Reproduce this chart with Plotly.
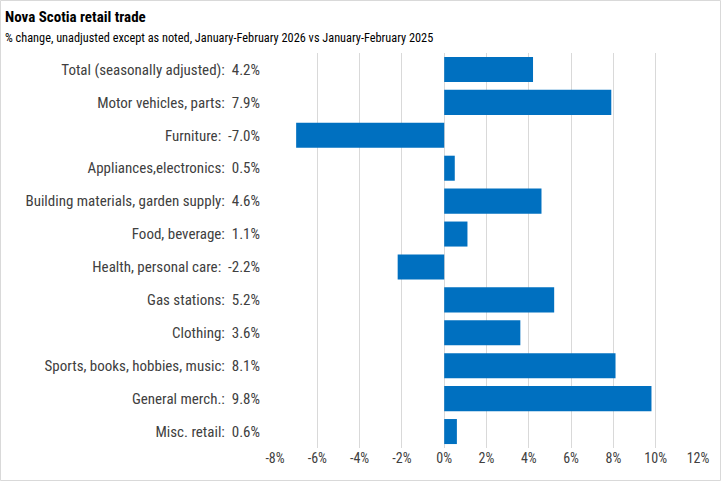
import plotly.graph_objects as go

categories = [
    "Total (seasonally adjusted)",
    "Motor vehicles, parts",
    "Furniture",
    "Appliances,electronics",
    "Building materials, garden supply",
    "Food, beverage",
    "Health, personal care",
    "Gas stations",
    "Clothing",
    "Sports, books, hobbies, music",
    "General merch.",
    "Misc. retail",
]
values = [4.2, 7.9, -7.0, 0.5, 4.6, 1.1, -2.2, 5.2, 3.6, 8.1, 9.8, 0.6]
tick_vals = [-8, -6, -4, -2, 0, 2, 4, 6, 8, 10, 12]
tick_text = [f"{v}%" for v in tick_vals]
title = "Nova Scotia retail trade"
subtitle = "% change, unadjusted except as noted, January-February 2026 vs January-February 2025"

labels = [f"{c}:  {v:.1f}%" for c, v in zip(categories, values)]

W, H = 721, 481
L, R, T, B = 275, 23, 53, 33
pw, ph = W - L - R, H - T - B

def px(x):
    return (x - L) / pw

def py(y):
    return (H - B - y) / ph

FONT = "Roboto Condensed, Roboto, Liberation Sans, sans-serif"

fig = go.Figure(go.Bar(
    x=values, y=labels, orientation="h",
    marker=dict(color="#0070C0", line=dict(width=0)),
))

fig.update_layout(
    template="none",
    width=W, height=H,
    margin=dict(l=L, r=R, t=T, b=B, pad=0),
    paper_bgcolor="white", plot_bgcolor="white",
    bargap=0.24,
    showlegend=False,
    font=dict(family=FONT, color="#404040", size=13),
    xaxis=dict(
        range=[-8, 12], tickmode="array", tickvals=tick_vals, ticktext=tick_text,
        showgrid=True, gridcolor="#D9D9D9", gridwidth=1,
        zeroline=False, showline=False, ticks="", automargin=False,
        tickfont=dict(size=14, color="#404040"),
    ),
    yaxis=dict(
        autorange="reversed", showgrid=False, zeroline=False, showline=False,
        ticks="", ticklabelstandoff=14, automargin=False,
        tickfont=dict(size=15, color="#404040"),
    ),
    shapes=[dict(
        type="rect", xref="paper", yref="paper",
        x0=px(0.5), x1=px(720.5), y0=py(480.5), y1=py(0.5),
        line=dict(color="#D9D9D9", width=1), fillcolor="rgba(0,0,0,0)",
    )],
    annotations=[
        dict(text=f"<b>{title}</b>", xref="paper", yref="paper",
             x=px(3), y=py(17), xanchor="left", yanchor="middle",
             showarrow=False, font=dict(size=15, color="#000000", family=FONT)),
        dict(text=subtitle, xref="paper", yref="paper",
             x=px(3), y=py(38), xanchor="left", yanchor="middle",
             showarrow=False, font=dict(size=12.3, color="#000000", family=FONT)),
    ],
)

fig.write_html("out.html", config={"displayModeBar": False},
               post_script="document.body.style.margin='0';")
